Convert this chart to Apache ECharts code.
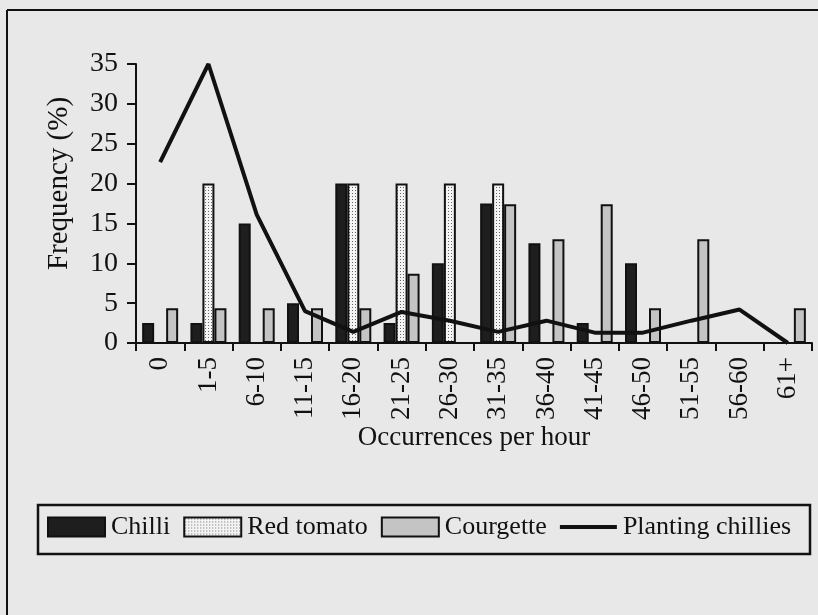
<!DOCTYPE html>
<html>
<head>
<meta charset="utf-8">
<script src="https://cdn.jsdelivr.net/npm/echarts@6/dist/echarts.min.js"></script>
<style>
  html, body { margin: 0; padding: 0; background: #e8e8e8; }
  #container { width: 818px; height: 615px; }
</style>
</head>
<body>
<div id="container"></div>
<script>
var categories = ['0', '1-5', '6-10', '11-15', '16-20', '21-25', '26-30', '31-35', '36-40', '41-45', '46-50', '51-55', '56-60', '61+'];
var chilli = [2.5, 2.5, 15, 5, 20, 2.5, 10, 17.5, 12.5, 2.5, 10, 0, 0, 0];
var redTomato = [0, 20, 0, 0, 20, 20, 20, 20, 0, 0, 0, 0, 0, 0];
var courgette = [4.35, 4.35, 4.35, 4.35, 4.35, 8.7, 0, 17.4, 13, 17.4, 4.35, 13, 0, 4.35];
var planting = [22.7, 35, 16.1, 4, 1.4, 3.9, 2.8, 1.4, 2.8, 1.3, 1.3, 2.8, 4.2, 0];

var FONT = '"Liberation Serif", "DejaVu Serif", serif';

// dotted fill for the tomato bars
function dots() {
    var c = document.createElement('canvas');
    c.width = 3; c.height = 3;
    var ctx = c.getContext('2d');
    ctx.fillStyle = '#f4f4f4';
    ctx.fillRect(0, 0, 3, 3);
    ctx.fillStyle = '#666';
    ctx.fillRect(1, 1, 1, 1);
    return c;
}

var dom = document.getElementById('container');
var myChart = echarts.init(dom, null, {renderer: 'canvas'});

var barBorder = {borderColor: '#111', borderWidth: 2};

// thick bar in the middle of a 57x19 box, for the line legend swatch
var lineIcon = 'path://M0,0 L0.01,0 M0,7.5 L57,7.5 L57,11.5 L0,11.5 Z M0,19 L0.01,19';

var option = {
    backgroundColor: '#e8e8e8',
    animation: false,
    textStyle: {fontFamily: FONT, color: '#111'},
    grid: {left: 136, right: 6, top: 64, bottom: 272, containLabel: false},
    legend: {
        left: 47,
        top: 514,
        padding: 0,
        itemWidth: 57,
        itemHeight: 19,
        itemGap: 13,
        textStyle: {fontFamily: FONT, fontSize: 26, color: '#111', padding: [0, 0, 0, 1]},
        data: [
            {name: 'Chilli', icon: 'rect'},
            {name: 'Red tomato', icon: 'rect'},
            {name: 'Courgette', icon: 'rect'},
            {name: 'Planting chillies', icon: lineIcon, itemStyle: {color: '#111', borderWidth: 0}}
        ]
    },
    graphic: [
        {type: 'rect', shape: {x: 38, y: 505, width: 772, height: 49},
         style: {fill: 'none', stroke: '#111', lineWidth: 2.5}, z: 0},
        {type: 'line', shape: {x1: 7, y1: 10, x2: 818, y2: 10},
         style: {stroke: '#111', lineWidth: 2}},
        {type: 'line', shape: {x1: 7, y1: 10, x2: 7, y2: 615},
         style: {stroke: '#111', lineWidth: 2}}
    ],
    xAxis: {
        type: 'category',
        data: categories,
        boundaryGap: true,
        name: 'Occurrences per hour',
        nameLocation: 'middle',
        nameGap: 81,
        nameTextStyle: {fontFamily: FONT, fontSize: 27, color: '#111'},
        axisLine: {lineStyle: {color: '#111', width: 2}},
        axisTick: {show: true, length: 8, lineStyle: {color: '#111', width: 2}},
        axisLabel: {rotate: 90, margin: 14, fontFamily: FONT, fontSize: 27, color: '#111', interval: 0},
        splitLine: {show: false}
    },
    yAxis: {
        type: 'value',
        min: 0,
        max: 35,
        interval: 5,
        name: 'Frequency (%)',
        nameLocation: 'middle',
        nameGap: 62,
        nameTextStyle: {fontFamily: FONT, fontSize: 29, color: '#111', padding: [0, 0, 0, 40]},
        axisLine: {show: true, lineStyle: {color: '#111', width: 2}},
        axisTick: {show: true, length: 9, lineStyle: {color: '#111', width: 2}},
        axisLabel: {margin: 18, fontFamily: FONT, fontSize: 28, color: '#111'},
        splitLine: {show: false}
    },
    series: [
        {
            name: 'Chilli', type: 'bar', data: chilli,
            barWidth: 12, barGap: '0%',
            itemStyle: Object.assign({color: '#1e1e1e'}, barBorder)
        },
        {
            name: 'Red tomato', type: 'bar', data: redTomato,
            barWidth: 12, barGap: '0%',
            itemStyle: Object.assign({color: {image: dots(), repeat: 'repeat'}}, barBorder)
        },
        {
            name: 'Courgette', type: 'bar', data: courgette,
            barWidth: 12, barGap: '0%',
            itemStyle: Object.assign({color: '#c4c4c4'}, barBorder)
        },
        {
            name: 'Planting chillies', type: 'line', data: planting,
            symbol: 'none', smooth: false, z: 5,
            lineStyle: {color: '#111', width: 4},
            itemStyle: {color: '#111'}
        }
    ]
};

if (option && typeof option === 'object') {
    myChart.setOption(option, true);
}
</script>
</body>
</html>
